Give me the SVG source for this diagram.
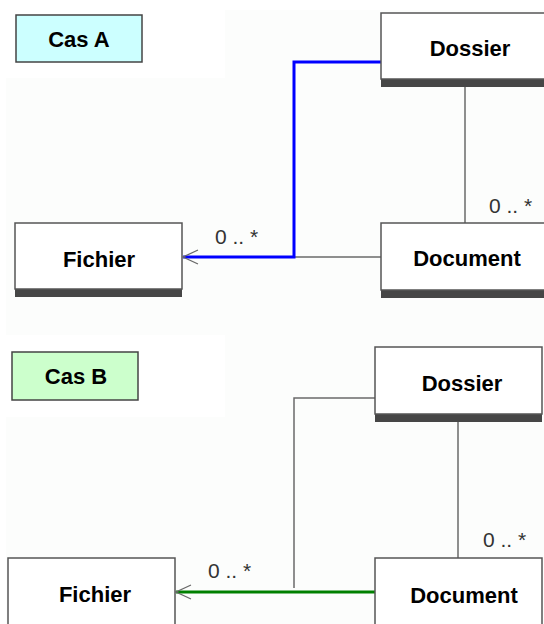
<svg xmlns="http://www.w3.org/2000/svg" width="544" height="624" viewBox="0 0 544 624">
<style>
.box{fill:#ffffff;stroke:#555555;stroke-width:1.5}
.shadow{fill:#464646}
.lbl{font-family:"Liberation Sans",Arial,sans-serif;font-weight:bold;font-size:22px;fill:#000000;text-anchor:middle}
.mult{font-family:"Liberation Sans",Arial,sans-serif;font-size:21px;fill:#333333}
.gl{fill:none;stroke:#6a6a6a;stroke-width:1.5}
</style>
<defs>
<marker id="open" markerUnits="userSpaceOnUse" markerWidth="20" markerHeight="20" viewBox="-18 -10 20 20" refX="0" refY="0" orient="auto">
<path d="M-15,-7 L0,0 L-15,7" fill="none" stroke="#6a6a6a" stroke-width="1.3"/>
</marker>
</defs>
<rect x="0" y="0" width="544" height="624" fill="#ffffff"/>
<path d="M6,78 H225 V10 H544 V624 H6 Z" fill="#fcfdfc"/>
<rect x="6" y="335" width="219" height="82" fill="#ffffff"/>

<g id="connectors">
<path class="gl" d="M465,87 V223"/>
<path class="gl" d="M294,257 H381"/>
<path d="M381,62 H294 V257 H183" fill="none" stroke="#0000ff" stroke-width="3" marker-end="url(#open)"/>
<path class="gl" d="M458,422 V558"/>
<path class="gl" d="M375,398 H294 V588"/>
<path d="M375,592 H176" fill="none" stroke="#008000" stroke-width="3" marker-end="url(#open)"/>
<text class="mult" x="215" y="244">0 .. *</text>
<text class="mult" x="489" y="213">0 .. *</text>
<text class="mult" x="208" y="578">0 .. *</text>
<text class="mult" x="483" y="547">0 .. *</text>
</g>

<g id="casA">
<rect x="16" y="15" width="126" height="47" fill="#ccffff" stroke="#444444" stroke-width="1.5"/>
<text class="lbl" x="79" y="47">Cas A</text>
</g>
<g id="dossierA">
<rect class="shadow" x="381" y="79" width="180" height="8"/>
<rect class="box" x="381" y="13" width="180" height="66"/>
<text class="lbl" x="470" y="56">Dossier</text>
</g>
<g id="fichierA">
<rect class="shadow" x="15" y="289" width="167" height="8"/>
<rect class="box" x="15" y="223" width="167" height="66"/>
<text class="lbl" x="99" y="267">Fichier</text>
</g>
<g id="documentA">
<rect class="shadow" x="381" y="290" width="180" height="8"/>
<rect class="box" x="381" y="223" width="180" height="67"/>
<text class="lbl" x="467" y="266">Document</text>
</g>

<g id="casB">
<rect x="12" y="352" width="126" height="48" fill="#ccffcc" stroke="#444444" stroke-width="1.5"/>
<text class="lbl" x="76" y="384">Cas B</text>
</g>
<g id="dossierB">
<rect class="shadow" x="375" y="414" width="167" height="8"/>
<rect class="box" x="375" y="347" width="167" height="67"/>
<text class="lbl" x="462" y="391">Dossier</text>
</g>
<g id="fichierB">
<rect class="box" x="8" y="558" width="167" height="80"/>
<text class="lbl" x="95" y="602">Fichier</text>
</g>
<g id="documentB">
<rect class="box" x="375" y="558" width="167" height="80"/>
<text class="lbl" x="464" y="603">Document</text>
</g>
</svg>
